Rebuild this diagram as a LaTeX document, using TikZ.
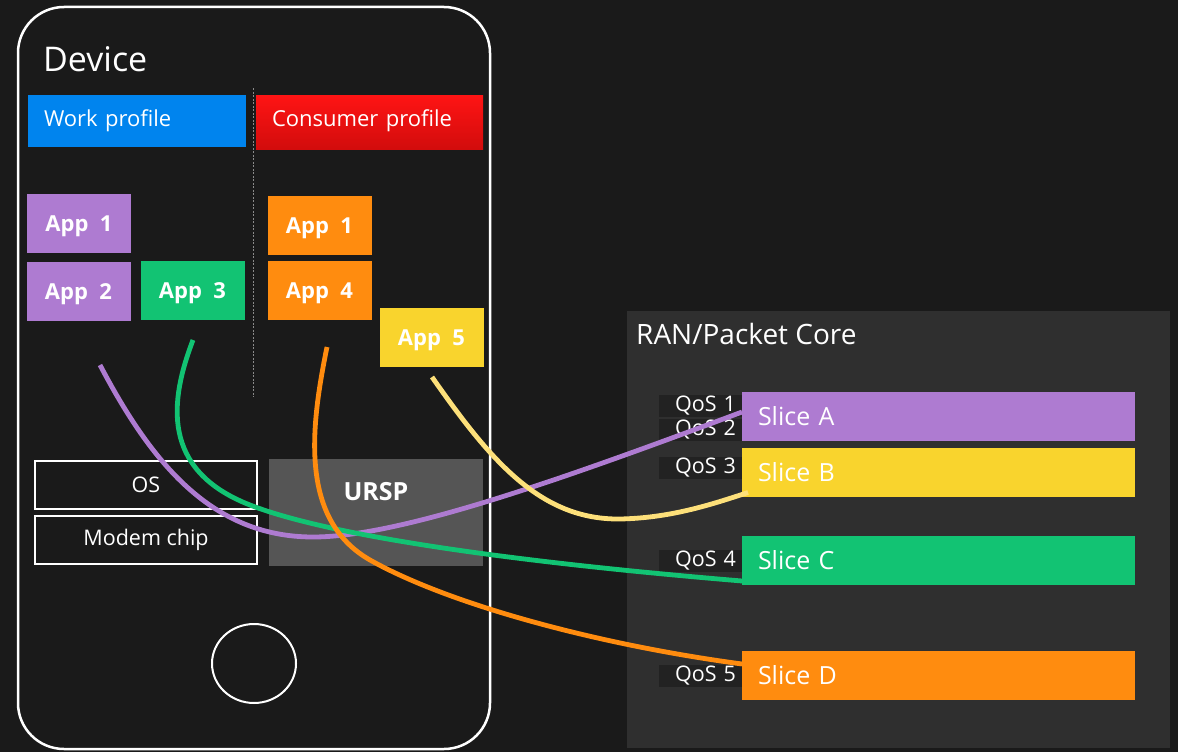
\documentclass[tikz,border=0pt]{standalone}
\usepackage{fontspec}
\setmainfont{Open Sans}
\usetikzlibrary{calc,shapes.geometric}
\definecolor{bg}{HTML}{1A1A1A}
\definecolor{ranbg}{HTML}{2F2F2F}
\definecolor{qosbg}{HTML}{222222}
\definecolor{urspbg}{HTML}{555555}
\definecolor{workblue}{HTML}{0084EE}
\definecolor{redtop}{HTML}{FF1414}
\definecolor{redbot}{HTML}{D20C0C}
\definecolor{purp}{HTML}{AE7BD1}
\definecolor{grn}{HTML}{12C373}
\definecolor{orng}{HTML}{FF8C0F}
\definecolor{yel}{HTML}{F9D42D}
\definecolor{lightyel}{HTML}{FDE07A}
\definecolor{dashgray}{HTML}{8A8A8A}
\tikzset{
  fillbox/.style={rectangle, inner sep=0pt, outer sep=0pt, text=white},
  appbox/.style={fillbox, fill=#1, minimum width=104pt, minimum height=59pt,
    text depth=0pt, font=\bfseries\fontsize{22}{26}\selectfont},
  profilebox/.style={fillbox, align=left, inner xsep=16pt,
    font=\fontsize{22}{26}\selectfont},
  outlinebox/.style={rectangle, draw=white, line width=2pt, inner sep=0pt,
    minimum width=222pt, minimum height=48pt, text=white,
    font=\fontsize{21.5}{25}\selectfont},
  slicebox/.style={fillbox, fill=#1, minimum height=49pt, text width=361pt,
    inner xsep=16pt, align=left, font=\fontsize{25}{30}\selectfont},
  qosbox/.style={fillbox, fill=qosbg, minimum height=22pt, text width=71pt,
    inner xsep=6pt, align=right, font=\fontsize{21.5}{24}\selectfont},
  link/.style={line width=4.8pt, draw=#1},
}
\begin{document}
\begin{tikzpicture}[x=1pt, y=-1pt]
  % canvas
  \fill[bg] (0,0) rectangle (1178,752);
  \useasboundingbox (0,0) rectangle (1178,752);

  % network side
  \node[fillbox, fill=ranbg, minimum width=543pt, minimum height=437pt] (ran) at (898.5,529.5) {};
  \node[anchor=base west, inner sep=0pt, text=white, font=\fontsize{28}{32}\selectfont]
    (rantitle) at (636,344) {RAN/Packet Core};

  \node[qosbox] (q2) at (700.5,430) {QoS 2};
  \node[qosbox] (q1) at (700.5,406) {QoS 1};
  \node[qosbox] (q3) at (700.5,467.5) {QoS 3};
  \node[qosbox] (q4) at (700.5,560.5) {QoS 4};
  \node[qosbox] (q5) at (700.5,675.5) {QoS 5};

  % handset
  \draw[white, line width=2.5pt, rounded corners=46pt] (18,7) rectangle (490,749);
  \node[anchor=base west, inner sep=0pt, text=white, font=\fontsize{34}{40}\selectfont]
    (device) at (43,72) {Device};
  \draw[dashgray, line width=0.8pt, dash pattern=on 2pt off 1.5pt] (253,88) -- (253,397);

  \node[profilebox, fill=workblue, minimum height=52pt, text width=186pt] (work) at (137,121) {Work profile};
  \shade[top color=redtop, bottom color=redbot] (256,95) rectangle (483,149);
  \node[profilebox, minimum height=54pt, text width=195pt] (consumer) at (369.5,121) {Consumer profile};

  \node[appbox=purp] (wapp1) at (79,223.5) {App~~1};
  \node[appbox=purp] (wapp2) at (78.5,291.5) {App~~2};
  \node[appbox=grn]  (wapp3) at (192.5,290.5) {App~~3};
  \node[appbox=orng] (capp1) at (319.5,225.5) {App~~1};
  \node[appbox=orng] (capp4) at (319.5,290.5) {App~~4};
  \node[appbox=yel]  (capp5) at (431.5,337.5) {App~~5};

  \node[outlinebox] (os) at (146,485) {OS};
  \node[outlinebox] (modem) at (146,540) {Modem chip};
  \node[fillbox, fill=urspbg, minimum width=214pt, minimum height=107pt] (ursp) at (376,512.5) {};
  \node[text=white, inner sep=0pt, font=\bfseries\fontsize{25}{30}\selectfont]
    (urspl) at ([yshift=21pt]ursp.center) {URSP};

  \node[ellipse, draw=white, line width=2pt, minimum width=84pt, minimum height=79pt, inner sep=0pt]
    (home) at (254,663.5) {};

  % slices
  \node[slicebox=purp] (sa) at (938.5,416.5) {Slice A};
  \node[slicebox=yel]  (sb) at (938.5,472) {Slice B};
  \node[slicebox=grn]  (sc) at (938.5,560.5) {Slice C};
  \node[slicebox=orng] (sd) at (938.5,675.5) {Slice D};

  % traffic routes from the apps to their slices
  \coordinate (pstart) at (100,365);
  \coordinate (gstart) at (193,340);
  \coordinate (ostart) at (327,347);
  \coordinate (ystart) at (432,377);

  \draw[link=purp] (pstart) .. controls (150,460) and (210,537) .. (313,537)
    .. controls (400,537) and (560,480) .. ([yshift=4.5pt]sa.west);
  \draw[link=grn] (gstart) .. controls (170,400) and (160,470) .. (250,505)
    .. controls (340,540) and (550,565) .. ([yshift=-20.5pt]sc.west);
  \draw[link=orng] (ostart) .. controls (310,430) and (300,520) .. (370,560)
    .. controls (450,605) and (600,645) .. ([yshift=11.5pt]sd.west);
  \draw[link=lightyel] (ystart) .. controls (490,460) and (540,520) .. (620,519)
    .. controls (670,518) and (710,505) .. ([xshift=6pt,yshift=4pt]sb.south west);
\end{tikzpicture}
\end{document}
